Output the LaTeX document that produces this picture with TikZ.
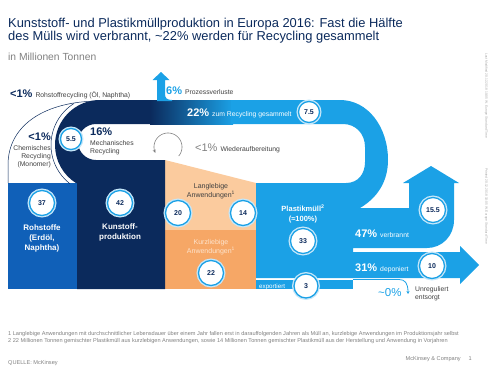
\documentclass[tikz,border=0pt]{standalone}
\usepackage{fontspec}
\setmainfont{Liberation Sans}
\usetikzlibrary{arrows.meta}
\definecolor{navy}{HTML}{0B2A5C}
\definecolor{midblue}{HTML}{1060B8}
\definecolor{lblue}{HTML}{1BA1E6}
\definecolor{lorange}{HTML}{FBCB9E}
\definecolor{dorange}{HTML}{F6A766}
\definecolor{peach}{HTML}{FDE3CC}
\definecolor{txtgray}{HTML}{404040}
\definecolor{lgray}{HTML}{808080}
\begin{document}
\begin{tikzpicture}[x=1pt,y=-1pt,
  num/.style={circle, fill=white, draw=lblue, line width=1.3pt, minimum size=25pt, inner sep=0pt,
    preaction={draw=lblue!25, line width=4pt},
    font=\fontsize{7}{8}\selectfont\bfseries, text=navy},
  smallnum/.style={num, minimum size=21pt},
  lbl/.style={inner sep=0pt, font=\fontsize{6.8}{8.2}\selectfont, text=txtgray},
  boxlbl/.style={inner sep=0pt, align=center, font=\fontsize{8}{10}\selectfont\bfseries, text=white},
  thin/.style={draw=navy, line width=0.5pt}]
\useasboundingbox (0,0) rectangle (490,367);
\newcommand{\pct}{\fontsize{11}{12}\selectfont\bfseries}

% title
\node[anchor=north west, inner sep=0pt, align=left, text=navy, font=\fontsize{12.9}{13.3}\selectfont] (title) at (8,18)
  {Kunststoff- und Plastikmüllproduktion in Europa 2016: Fast die Hälfte\\des Mülls wird verbrannt, \textasciitilde22\% werden für Recycling gesammelt};
\node[anchor=base west, inner sep=0pt, text=lgray, font=\fontsize{10.3}{11}\selectfont] (sub) at (8,60) {in Millionen Tonnen};

% boxes
\fill[midblue] (8,183) rectangle (77,289);
\fill[lorange] (165,160) -- (256,183) -- (256,230.5) -- (165,230.5) -- cycle;
\fill[dorange] (165,230) rectangle (256,289);

% navy production shape with mechanical recycling arc
\fill[navy] (77,289) -- (77,183.2) -- (76.2,183.2) .. controls (63,175) and (55,160.5) .. (55,145)
  .. controls (55,120.1) and (75.1,100) .. (100,100) -- (152,100) -- (152,124) -- (96,124)
  .. controls (86.06,124) and (78,132.06) .. (78,142) .. controls (78,151.94) and (86.06,160) .. (96,160)
  -- (165,160) -- (165,289) -- cycle;
\shade[left color=navy, right color=lblue] (150,100) rectangle (233,124);

% light blue flows
\fill[lblue] (231,100) -- (340,100) .. controls (368,100) and (388,127) .. (388,160)
  .. controls (388,182) and (377,198) .. (360,208) -- (409,208)
  -- (409,183) -- (403,183) -- (431,166) -- (459,183) -- (454,183) -- (454,220)
  .. controls (454,236) and (442,248) .. (427,248) -- (353,248) -- (353,278) -- (256,278) -- (256,183)
  -- (346,183) .. controls (358,183) and (365,174) .. (365,162) -- (365,147)
  .. controls (365,134) and (356,124) .. (343,124) -- (231,124) -- cycle;
\fill[lblue] (352.5,252) -- (460,252) -- (460,246) -- (479,265) -- (460,284) -- (460,278) -- (352.5,278) -- cycle;
\fill[lblue] (256,280) rectangle (353,289);
% process losses arrow
\fill[lblue] (157,101) -- (157,80) -- (152.5,80) -- (161,72) -- (169.5,80) -- (165,80) -- (165,94)
  .. controls (165,98) and (167,100) .. (172,100) -- (172,101) -- cycle;

% thin lines (chemical recycling)
\draw[thin] (8,183) -- (8,165) .. controls (8,125) and (45,101) .. (100,101);
\draw[thin] plot[domain=128:238, samples=40] ({100+49*cos(\x)},{145+49*sin(\x)});

% re-processing loop
\draw[lgray, line width=0.6pt, -{Stealth[length=3.5pt,width=3pt]}]
  plot[domain=40:-205, samples=50] ({168+14*cos(\x)},{147+14*sin(\x)});

% unregulated arrow
\coordinate (u0) at (353,279.5);
\node[lbl, anchor=north west, align=left] (unreg) at (415,286) {Unreguliert\\entsorgt};
\draw[lblue, line width=0.8pt, -{Stealth[length=3pt,width=3pt]}] (u0) -- (399,279.5) .. controls (405,279.5) and (408,283) .. (408,294);

% number circles
\node[num] (n37) at (42,203) {37};
\node[num] (n42) at (120,203) {42};
\node[num] (n20) at (178,213) {20};
\node[num] (n14) at (243,213) {14};
\node[num] (n22) at (211,273) {22};
\node[num] (n33) at (303,241) {33};
\node[num, minimum size=24pt] (n3) at (306,286) {3};
\node[num] (n155) at (433,210) {15.5};
\node[num] (n10) at (432,266) {10};
\node[smallnum] (n75) at (309,112) {7.5};
\node[smallnum] (n55) at (71,139) {5.5};

% box labels
\node[boxlbl] (roh) at (42,238) {Rohstoffe\\(Erdöl,\\Naphtha)};
\node[boxlbl] (kun) at (120,232) {Kunstoff-\\produktion};
\node[lbl, align=center, font=\fontsize{7}{9.5}\selectfont] (lang) at (211,191) {Langlebige\\Anwendungen\textsuperscript{1}};
\node[lbl, align=center, text=peach, font=\fontsize{7}{9.5}\selectfont] (kurz) at (211,247) {Kurzliebige\\Anwendungen\textsuperscript{1}};
\node[boxlbl, font=\fontsize{7.5}{10}\selectfont\bfseries] (plast) at (303,214) {Plastikmüll\textsuperscript{2}\\(≈100\%)};

% flow labels
\node[lbl, anchor=base west] (rohrec) at (10,97) {\textcolor{navy}{\pct <1\%}\hspace{3pt}Rohstoffrecycling (Öl, Naphtha)};
\node[lbl, anchor=base west] (proz) at (166,94) {\textcolor{lblue}{\pct 6\%}\hspace{3pt}Prozessverluste};
\node[lbl, anchor=base west, text=white] (rec) at (187,116) {{\pct 22\%}\hspace{3pt}zum Recycling gesammelt};
\node[lbl, anchor=north east, align=right] (chem) at (51,133) {\textcolor{navy}{\pct <1\%}\\[1pt]Chemisches\\Recycling\\(Monomer)};
\node[lbl, anchor=north west, align=left] (mech) at (90,128) {\textcolor{navy}{\pct 16\%}\\[1pt]Mechanisches\\Recycling};
\node[lbl, anchor=base west] (wieder) at (195,151) {\textcolor{lgray}{\fontsize{11}{12}\selectfont <1\%}\hspace{3pt}Wiederaufbereitung};
\node[lbl, anchor=base west, text=white] (verb) at (355,237) {{\pct 47\%}\hspace{3pt}verbrannt};
\node[lbl, anchor=base west, text=white] (dep) at (355,271) {{\pct 31\%}\hspace{3pt}deponiert};
\node[lbl, anchor=base west, text=white, font=\fontsize{6.2}{7}\selectfont] (exp) at (259,288) {exportiert};
\node[anchor=base west, inner sep=0pt, text=lblue, font=\fontsize{11.5}{12}\selectfont] (null) at (378,296) {\textasciitilde0\%};

% footnotes
\node[anchor=base west, inner sep=0pt, text=lgray, align=left, font=\fontsize{5.6}{6.6}\selectfont] (fn) at (8,342)
  {1 Langlebige Anwendungen mit durchschnittlicher Lebensdauer über einem Jahr fallen erst in darauffolgenden Jahren als Müll an, kurzlebige Anwendungen im Produktionsjahr selbst\\2 22 Millionen Tonnen gemischter Plastikmüll aus kurzlebigen Anwendungen, sowie 14 Millionen Tonnen gemischter Plastikmüll aus der Herstellung und Anwendung in Vorjahren};
\node[anchor=base west, inner sep=0pt, text=lgray, font=\fontsize{5.6}{6.6}\selectfont] (src) at (8,364) {QUELLE: McKinsey};
\node[anchor=base east, inner sep=0pt, text=lgray, font=\fontsize{5.6}{6.6}\selectfont] (mck) at (472,360) {McKinsey \& Company\hspace{8pt}1};
\node[anchor=north west, rotate=-90, inner sep=0pt, text=lgray!70, font=\fontsize{3.3}{4}\selectfont] (lm) at (488,53) {Last Modified 20.12.2018 10:05 W. Europe Standard Time};
\node[anchor=north west, rotate=-90, inner sep=0pt, text=lgray!70, font=\fontsize{3.3}{4}\selectfont] (pr) at (488,168) {Printed 20.12.2018 10:05 W. Europe Standard Time};
\end{tikzpicture}
\end{document}
